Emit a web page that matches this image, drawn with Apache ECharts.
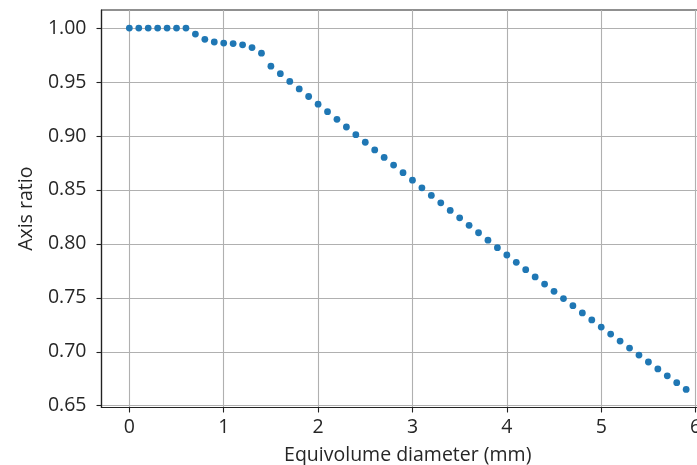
<!DOCTYPE html>
<html>
<head>
<meta charset="utf-8">
<script src="https://cdn.jsdelivr.net/npm/echarts@6/dist/echarts.min.js"></script>
<style>
  html, body { margin: 0; padding: 0; background: #fff; }
  #chart { width: 697px; height: 465px; }
</style>
</head>
<body>
<div id="chart"></div>
<script>
// equivolume diameter (mm)
var diameters = [0.0, 0.1, 0.2, 0.3, 0.4, 0.5, 0.6, 0.7, 0.8, 0.9,
                 1.0, 1.1, 1.2, 1.3, 1.4, 1.5, 1.6, 1.7, 1.8, 1.9,
                 2.0, 2.1, 2.2, 2.3, 2.4, 2.5, 2.6, 2.7, 2.8, 2.9,
                 3.0, 3.1, 3.2, 3.3, 3.4, 3.5, 3.6, 3.7, 3.8, 3.9,
                 4.0, 4.1, 4.2, 4.3, 4.4, 4.5, 4.6, 4.7, 4.8, 4.9,
                 5.0, 5.1, 5.2, 5.3, 5.4, 5.5, 5.6, 5.7, 5.8, 5.9];
// axis ratio
var axisRatios = [1.0, 1.0, 1.0, 1.0, 1.0, 1.0, 1.0, 0.9944, 0.9896, 0.9871,
                  0.9861, 0.9856, 0.9845, 0.9819, 0.9767, 0.9647, 0.9577, 0.9506, 0.9436, 0.9366,
                  0.9295, 0.9225, 0.9154, 0.9083, 0.9012, 0.8942, 0.8871, 0.8801, 0.8730, 0.8660,
                  0.8590, 0.8519, 0.8449, 0.8380, 0.8310, 0.8241, 0.8172, 0.8103, 0.8034, 0.7965,
                  0.7897, 0.7829, 0.7761, 0.7694, 0.7627, 0.7560, 0.7493, 0.7427, 0.7360, 0.7295,
                  0.7229, 0.7164, 0.7099, 0.7034, 0.6969, 0.6905, 0.6841, 0.6777, 0.6714, 0.6651];
var xTicks = [0, 1, 2, 3, 4, 5, 6];
var yTicks = [0.65, 0.70, 0.75, 0.80, 0.85, 0.90, 0.95, 1.00];

var points = [];
for (var i = 0; i < diameters.length; i++) {
    points.push([diameters[i], axisRatios[i]]);
}

var myChart = echarts.init(document.getElementById('chart'));
var font = 'Open Sans';
var fs = 19.5;

var option = {
    backgroundColor: '#ffffff',
    animation: false,
    textStyle: { fontFamily: font },
    grid: {
        left: 101.5,
        top: 10,
        width: 612.5,
        height: 397.5,
        show: true,
        borderColor: '#222222',
        borderWidth: 1.2,
        backgroundColor: 'transparent',
        outerBoundsMode: 'none'
    },
    xAxis: {
        type: 'value',
        min: -0.295,
        max: 6.195,
        name: 'Equivolume diameter (mm)',
        nameLocation: 'middle',
        nameGap: 38,
        nameTextStyle: { color: '#262626', fontSize: fs, fontFamily: font },
        axisLine: { show: true, onZero: false, lineStyle: { color: '#222', width: 1.2 } },
        axisTick: { show: true, inside: false, length: 5, lineStyle: { color: '#222', width: 1.1 }, customValues: xTicks },
        axisLabel: { color: '#262626', fontSize: fs, margin: 10, fontFamily: font, customValues: xTicks },
        splitLine: { show: true, lineStyle: { color: '#b0b0b0', width: 1.1 } }
    },
    yAxis: {
        type: 'value',
        min: 0.64835,
        max: 1.01675,
        name: 'Axis ratio',
        nameLocation: 'middle',
        nameGap: 65,
        nameTextStyle: { color: '#262626', fontSize: fs, fontFamily: font },
        axisLine: { show: true, onZero: false, lineStyle: { color: '#222', width: 1.2 } },
        axisTick: { show: true, inside: false, length: 5, lineStyle: { color: '#222', width: 1.1 }, customValues: yTicks },
        axisLabel: {
            color: '#262626', fontSize: fs, margin: 15, fontFamily: font, customValues: yTicks,
            formatter: function (v) { return v.toFixed(2); }
        },
        splitLine: { show: true, lineStyle: { color: '#b0b0b0', width: 1.1 } }
    },
    series: [
        {
            type: 'scatter',
            data: points,
            symbol: 'circle',
            symbolSize: 6.8,
            itemStyle: { color: '#1f77b4', opacity: 1 },
            emphasis: { disabled: true },
            silent: true
        }
    ]
};

myChart.setOption(option);
</script>
</body>
</html>
